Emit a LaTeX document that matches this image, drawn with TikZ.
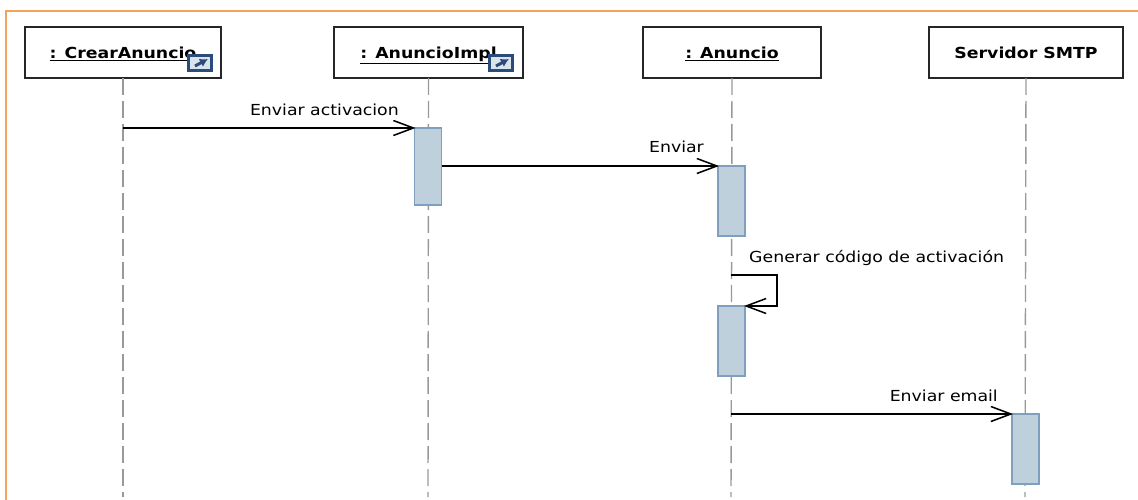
\documentclass[tikz,border=0pt]{standalone}
\usepackage{fontspec}
\setmainfont[FakeStretch=1.14]{DejaVu Sans}
\usetikzlibrary{arrows.meta}
\definecolor{frameorange}{HTML}{F5A25D}
\definecolor{barfill}{HTML}{BFD0DD}
\definecolor{barline}{HTML}{7E9FBD}
\definecolor{iconblue}{HTML}{2B4B7C}
\begin{document}
\begin{tikzpicture}[x=1pt, y=-1pt,
    head/.style={draw=black!85, line width=1.3pt, fill=white, minimum height=51pt,
      inner sep=0pt, outer sep=0pt, text height=18pt, text depth=6pt,
      font=\fontsize{15.2}{17}\selectfont\bfseries},
    bar/.style={draw=barline, line width=1.6pt, fill=barfill, minimum width=27pt,
      inner sep=0pt, outer sep=0pt},
    lifeline/.style={draw=black!40, line width=1.4pt, dash pattern=on 17pt off 6pt},
    msg/.style={draw=black, line width=1.5pt, shorten >=-1pt,
      -{Straight Barb[length=20pt,width=15pt,line width=1.5pt]}},
    lbl/.style={inner sep=0pt, font=\fontsize{15.2}{17}\selectfont},
    icon/.style={draw=iconblue, line width=2.2pt, fill=barfill!60, minimum width=23pt,
      minimum height=15pt, inner sep=0pt, outer sep=0pt},
  ]
  \useasboundingbox (0,0) rectangle (1138,500);
  \draw[frameorange, line width=2pt] (6,500) -- (6,11.5) -- (1138,11.5);

  % heads
  \node[head, minimum width=196pt] (crear) at (123,52.5) {\underline{: CrearAnuncio}};
  \node[head, minimum width=189pt] (impl) at (428.5,52.5) {\underline{: AnuncioImpl}};
  \node[head, minimum width=178pt] (anuncio) at (732,52.5) {\underline{: Anuncio}};
  \node[head, minimum width=194pt] (smtp) at (1026,52.5) {Servidor SMTP};

  % lifelines
  \coordinate (crearend) at (123,497);
  \coordinate (implend) at (428,497);
  \coordinate (anuncioend) at (731,497);
  \coordinate (smtpend) at (1025,497);
  \draw[lifeline] (crear.south) -- (crearend);
  \draw[lifeline] (impl.south) -- (implend);
  \draw[lifeline] (anuncio.south) -- (anuncioend);
  \draw[lifeline] (smtp.south) -- (smtpend);

  % icons
  \foreach \name/\xpos in {crearicon/200, implicon/501} {
    \node[icon] (\name) at (\xpos,63) {};
    \draw[iconblue, line width=3pt, -{Latex[length=8pt,width=9pt]}]
      ([xshift=-5pt,yshift=-3pt]\name.center) -- ([xshift=8pt,yshift=4pt]\name.center);
  }

  % activations
  \node[bar, minimum height=77pt] (bara) at (428,166.5) {};
  \node[bar, minimum height=70pt] (barb) at (731.5,201) {};
  \node[bar, minimum height=70pt] (barc) at (731.5,341) {};
  \node[bar, minimum height=70pt] (bard) at (1025.5,449) {};

  % messages
  \coordinate (m1) at (123,128);
  \coordinate (m3) at (731,275);
  \coordinate (m4) at (731,414);
  \draw[msg] (m1) -- (bara.north west);
  \draw[msg] (bara.east |- barb.north) -- (barb.north west);
  \draw[msg] (m3) -| (777,306) -- (barc.north east);
  \draw[msg] (m4) -- (bard.north west);

  \node[lbl, anchor=base east] (t1) at (399,116) {Enviar activacion};
  \node[lbl, anchor=base east] (t2) at (704,153) {Enviar};
  \node[lbl, anchor=base west] (t3) at (749,262) {Generar código de activación};
  \node[lbl, anchor=base east] (t4) at (998,401) {Enviar email};
\end{tikzpicture}
\end{document}
